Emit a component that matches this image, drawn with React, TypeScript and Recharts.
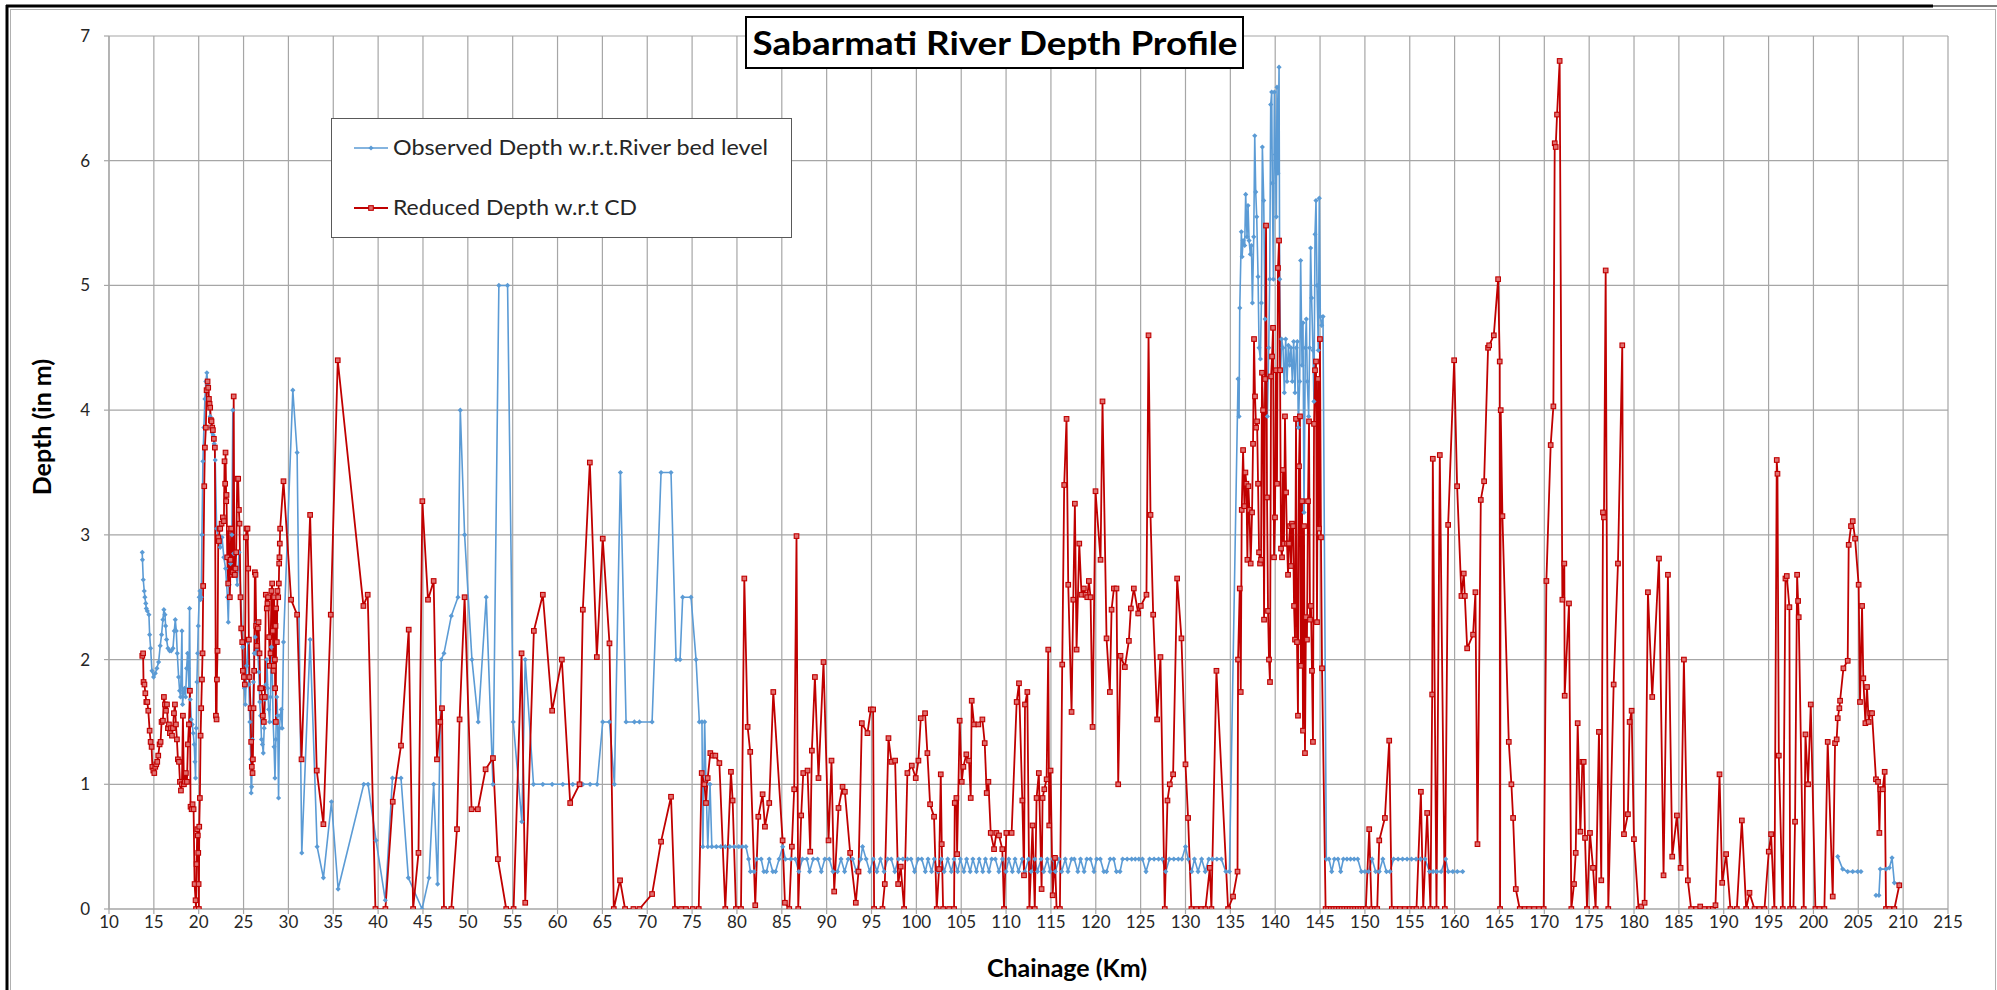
import React from 'react';
import { ComposedChart, Line, XAxis, YAxis, CartesianGrid } from 'recharts';

type Pt = [number, number | null];

// ---------- Observed Depth w.r.t. River bed level (km, m) ----------
const observedReach1: Pt[] = [
  [13.71,2.86],[13.73,2.8],[13.82,2.64],[13.93,2.55],[14.0,2.5],[14.1,2.45],[14.16,2.41],[14.27,2.39],[14.45,2.36],[14.53,2.2],
  [14.64,2.09],[14.79,1.91],[14.97,1.86],[15.16,1.89],[15.34,1.93],[15.53,1.98],[15.71,2.11],[15.86,2.2],[16.01,2.32],[16.12,2.4],
  [16.24,2.36],[16.31,2.27],[16.42,2.16],[16.57,2.09],[16.76,2.07],[16.94,2.07],[17.13,2.09],[17.28,2.23],[17.39,2.32],[17.5,2.23],
  [17.61,2.05],[17.76,1.86],[17.87,1.75],[17.98,1.7],[18.13,2.23],[18.2,1.64],[18.31,1.73],[18.42,1.77],[18.54,1.7],[18.65,1.93],
  [18.76,2.05],[18.83,1.93],[18.91,1.77],[18.98,2.41],[19.06,1.68],[19.17,1.52],[19.28,1.48],[19.39,1.41],[19.5,1.32],[19.58,1.18],
  [19.65,1.05],[19.73,1.45],[19.8,1.82],[19.88,2.05],[19.95,2.27],[20.06,2.5],[20.13,2.55],[20.2,2.48],[20.28,2.5],[20.36,3.0],
  [20.47,3.59],[20.58,3.86],[20.69,4.09],[20.8,4.23],[20.91,4.3],[21.02,4.2],[21.17,4.07],[21.28,3.95],[21.39,3.86],[21.5,3.82],
  [21.61,3.8],[21.73,3.73],[21.84,3.6],[22.0,3.05],[22.2,2.95],[22.4,2.9],[22.6,2.98],[22.8,2.82],[23.0,2.73],[23.2,2.5],
  [23.3,2.3],[23.4,2.6],[23.55,2.77],[23.7,3.0],[23.8,4.0],[23.9,2.85],[24.1,2.73],[24.3,2.6],[24.5,2.86],[24.7,2.5],
  [24.9,2.1],[25.0,1.86],[25.1,1.77],[25.2,1.64],[25.35,1.95],[25.5,2.14],[25.6,1.8],[25.7,1.5],[25.8,1.2],[25.85,0.93],
  [25.9,0.98],[26.0,1.36],[26.1,1.82],[26.2,2.05],[26.3,2.18],[26.4,2.05],[26.5,2.3],[26.6,2.05],[26.7,1.9],[26.8,1.66],
  [26.9,1.55],[27.0,1.36],[27.1,1.32],[27.2,1.25],[27.3,1.45],[27.4,1.68],[27.5,1.8],[27.6,2.0],[27.7,1.77],[27.8,1.6],
  [27.9,1.5],[28.0,1.7],[28.1,2.1],[28.2,1.9],[28.3,1.5],[28.4,1.3],[28.5,1.05],[28.6,1.36],[28.7,1.7],[28.8,1.55],
  [28.9,0.89],[29.0,1.45],[29.1,1.55],[29.2,1.6],[29.3,1.45],[29.45,2.14],[30.49,4.16],[30.97,3.66],[31.49,0.45],[32.42,2.16],
  [33.2,0.5],[33.9,0.25],[34.8,0.86],[35.54,0.16],[38.4,1.0],[38.88,1.0],[39.77,0.55],[40.8,0.07],[41.6,1.05],[42.55,1.05],
  [43.37,0.25],[44.9,0],
];
const observedReach2: Pt[] = [
  [45.67,0.25],[46.19,1.0],[46.63,0.2],[47.04,2.0],[47.34,2.05],[48.16,2.35],[48.9,2.5],[49.16,4.0],[49.64,3.0],[50.46,2.0],
  [51.16,1.5],[52.05,2.5],[52.8,1.0],[53.46,5.0],[54.43,5.0],[55.06,1.5],[56.02,0.7],[56.4,2.0],[57.32,1.0],[58.36,1.0],
  [59.4,1.0],[60.59,1.0],[61.7,1.0],[62.82,1.0],[63.63,1.0],[64.41,1.0],[65.04,1.5],[65.79,1.5],[66.34,1.0],[67.01,3.5],
  [67.64,1.5],[68.57,1.5],[69.13,1.5],[70.54,1.5],[71.54,3.5],[72.65,3.5],[73.21,2.0],[73.66,2.0],[73.95,2.5],[74.88,2.5],
  [75.44,2.0],[75.81,1.5],[76.1,1.5],[76.2,0.5],[76.4,1.5],[76.55,1.0],[76.75,0.5],[77.0,1.0],[77.2,0.5],[77.7,0.5],
  [78.2,0.5],[78.7,0.5],[79.2,0.5],[79.7,0.5],[80.2,0.5],[80.6,0.5],[81.0,0.5],
];
const observedReach3: Pt[] = [
  [81.3,0.4],[81.5,0.3],[81.9,0.3],[82.2,0.4],[82.7,0.4],[83.0,0.3],[83.3,0.3],[83.6,0.4],[84.0,0.3],[84.3,0.3],
  [84.7,0.4],[85.1,0.5],[85.4,0.4],[86.0,0.4],[86.5,0.4],[86.9,0.3],[87.3,0.4],[87.8,0.4],[88.1,0.3],[88.5,0.4],
  [89.0,0.4],[89.4,0.3],[89.8,0.4],[90.3,0.4],[90.7,0.3],[91.2,0.3],[91.6,0.4],[92.0,0.3],[92.4,0.4],[92.9,0.4],
  [93.3,0.3],[93.8,0.4],[94.0,0.5],[94.4,0.4],[94.8,0.3],[95.2,0.4],[95.6,0.3],[96.0,0.4],[96.4,0.3],[96.8,0.4],
  [97.2,0.4],[97.6,0.3],[98.0,0.4],[98.5,0.4],[99.0,0.4],[99.4,0.4],[99.8,0.3],[100.2,0.4],[100.6,0.4],[101.0,0.3],
  [101.3,0.4],[101.7,0.3],[102.0,0.4],[102.4,0.3],[102.8,0.4],[103.1,0.3],[103.5,0.4],[103.9,0.3],[104.2,0.4],[104.6,0.3],
  [104.9,0.4],[105.3,0.3],[105.6,0.4],[106.0,0.3],[106.3,0.4],[106.7,0.3],[107.0,0.4],[107.4,0.3],[107.7,0.4],[108.1,0.3],
  [108.4,0.4],[108.8,0.4],[109.2,0.3],[109.6,0.4],[110.0,0.3],[110.3,0.4],[110.7,0.3],[111.0,0.4],[111.4,0.3],[111.8,0.4],
  [112.1,0.3],[112.5,0.4],[112.8,0.3],[113.2,0.4],[113.5,0.3],[113.9,0.4],[114.2,0.3],[114.6,0.4],[114.9,0.3],[115.2,0.4],
  [115.5,0.3],[115.9,0.4],[116.2,0.3],[116.6,0.4],[116.9,0.3],[117.3,0.4],[117.6,0.4],[118.0,0.3],[118.3,0.4],[118.7,0.3],
  [119.0,0.4],[119.4,0.4],[119.8,0.3],[120.1,0.4],[120.5,0.4],[120.9,0.3],[121.2,0.3],[121.6,0.4],[122.0,0.4],[122.3,0.3],
  [122.7,0.3],[123.0,0.4],[123.5,0.4],[124.0,0.4],[124.4,0.4],[124.8,0.4],[125.2,0.4],[125.6,0.3],[126.0,0.4],[126.5,0.4],
  [127.0,0.4],[127.4,0.4],[127.8,0.3],[128.2,0.4],[128.7,0.4],[129.2,0.4],[129.6,0.4],[130.0,0.5],[130.3,0.4],[130.7,0.3],
  [131.0,0.4],[131.4,0.3],[131.8,0.4],[132.2,0.3],[132.6,0.4],[133.0,0.4],[133.5,0.4],[134.0,0.4],[134.5,0.3],[134.9,0.3],
];
const observedReach4: Pt[] = [
  [135.86,4.25],[135.97,3.95],[136.05,4.82],[136.23,5.43],[136.31,5.23],[136.42,5.36],[136.6,5.32],[136.71,5.73],[136.86,5.39],[136.97,5.64],
  [137.09,5.36],[137.23,5.25],[137.35,5.32],[137.46,4.86],[137.61,5.39],[137.72,6.2],[137.83,5.75],[137.94,5.55],[138.09,5.07],[138.2,4.5],
  [138.35,4.41],[138.46,4.86],[138.57,6.11],[138.72,5.68],[138.87,4.73],[139.02,4.25],[139.13,3.95],[139.28,4.5],[139.39,5.05],[139.5,6.45],
  [139.61,6.55],[139.68,5.82],[139.8,5.05],[139.91,6.55],[140.02,6.05],[140.13,5.55],[140.2,6.59],[140.31,5.9],[140.43,6.75],[140.5,5.05],
  [140.61,4.32],[140.72,4.57],[140.87,4.5],[141.02,4.14],[141.17,4.57],[141.32,4.23],[141.47,4.52],[141.61,4.36],[141.76,4.5],[141.91,4.23],
  [142.06,4.55],[142.21,4.14],[142.36,4.5],[142.47,4.55],[142.58,3.86],[142.73,4.23],[142.84,5.2],[142.99,4.36],[143.1,4.7],[143.21,3.18],
  [143.36,4.5],[143.47,4.73],[143.58,4.23],[143.73,3.95],[143.84,4.5],[143.95,5.3],[144.06,4.9],[144.21,4.48],[144.32,4.07],[144.44,5.41],
  [144.55,5.68],[144.66,5.0],[144.81,4.48],[144.92,5.7],[145.03,4.75],[145.18,4.68],[145.33,4.75],[145.7,0.4],
];
const observedReach5: Pt[] = [
  [146.0,0.4],[146.3,0.3],[146.6,0.4],[147.0,0.4],[147.3,0.3],[147.6,0.4],[148.0,0.4],[148.4,0.4],[148.8,0.4],[149.2,0.4],
  [149.6,0.3],[150.0,0.3],[150.4,0.3],[150.8,0.4],[151.2,0.3],[151.6,0.3],[152.0,0.4],[152.4,0.3],[152.8,0.3],[153.2,0.4],
  [153.7,0.4],[154.2,0.4],[154.7,0.4],[155.2,0.4],[155.7,0.4],[156.2,0.4],[156.7,0.4],[157.2,0.3],[157.6,0.3],[158.0,0.3],
  [158.5,0.3],[159.0,0.4],[159.3,0.3],[159.8,0.3],[160.3,0.3],[160.9,0.3],
  [182.0,null],
];
const observedReach6: Pt[] = [
  [202.71,0.42],[203.26,0.32],[203.82,0.3],[204.38,0.3],[204.93,0.3],[205.3,0.3],
  [206.2,null],
  [206.97,0.11],[207.3,0.11],[207.45,0.32],[208.1,0.32],[208.46,0.33],[208.76,0.41],[209.02,0.21],[209.57,0.2],
];

// ---------- Reduced Depth w.r.t CD (km, m) ----------
const reducedReach1: Pt[] = [
  [13.71,2.03],[13.8,2.05],[13.85,1.82],[13.95,1.8],[14.05,1.73],[14.16,1.66],[14.27,1.66],[14.38,1.59],[14.53,1.43],[14.64,1.34],
  [14.75,1.3],[14.83,1.14],[14.94,1.11],[15.05,1.09],[15.16,1.14],[15.27,1.16],[15.38,1.18],[15.49,1.23],[15.64,1.32],[15.75,1.34],
  [15.86,1.5],[16.01,1.51],[16.12,1.7],[16.24,1.64],[16.35,1.59],[16.46,1.64],[16.57,1.45],[16.68,1.48],[16.79,1.41],[16.9,1.45],
  [17.02,1.39],[17.13,1.45],[17.24,1.57],[17.35,1.64],[17.46,1.48],[17.57,1.36],[17.68,1.2],[17.8,1.18],[17.91,1.02],[18.02,0.95],
  [18.13,1.0],[18.24,1.55],[18.35,1.0],[18.46,1.02],[18.57,1.09],[18.69,1.02],[18.8,1.32],[18.91,1.48],[19.02,1.75],[19.09,0.82],
  [19.21,0.8],[19.32,0.84],[19.43,0.8],[19.54,0.2],[19.65,0.07],[19.7,0.0],[19.76,0.36],[19.84,0.64],[19.9,0.59],[19.95,0.45],
  [19.99,0.2],[20.02,0.0],[20.06,0.66],[20.13,0.89],[20.21,1.39],[20.28,1.61],[20.36,1.84],[20.43,2.05],[20.5,2.59],[20.62,3.39],
  [20.69,3.7],[20.8,3.86],[20.88,4.16],[20.99,4.23],[21.06,4.18],[21.14,4.09],[21.21,4.05],[21.28,4.02],[21.36,3.92],[21.43,3.91],
  [21.51,3.86],[21.58,3.84],[21.69,3.77],[21.8,3.7],[21.92,1.55],[21.99,1.52],[22.03,1.84],[22.1,2.07],[22.18,2.98],[22.25,2.95],
  [22.32,3.05],[22.4,3.05],[22.55,3.09],[22.69,3.14],[22.81,3.11],[22.88,3.59],[22.95,3.41],[22.99,3.66],[23.07,3.27],[23.1,3.32],
  [23.18,2.82],[23.29,2.61],[23.36,3.05],[23.47,2.5],[23.55,2.8],[23.62,3.05],[23.7,2.68],[23.81,2.7],[23.9,4.11],[23.98,2.68],
  [24.03,2.68],[24.1,2.73],[24.18,2.86],[24.29,3.45],[24.4,3.45],[24.48,3.2],[24.55,3.09],[24.66,2.5],[24.74,2.25],[24.85,2.14],
  [24.92,1.91],[25.03,1.86],[25.14,1.8],[25.26,2.98],[25.33,3.05],[25.44,3.05],[25.52,2.73],[25.59,2.16],[25.66,1.86],[25.78,1.61],
  [25.85,1.34],[25.92,1.14],[26.0,1.09],[26.04,1.2],[26.11,1.61],[26.18,1.91],[26.26,2.7],[26.33,2.68],[26.41,2.27],[26.48,2.11],
  [26.59,2.25],[26.67,2.3],[26.78,2.05],[26.85,1.77],[26.96,1.77],[27.07,1.7],[27.15,1.55],[27.26,1.5],[27.37,1.7],[27.48,2.52],
  [27.59,2.41],[27.67,2.45],[27.74,2.5],[27.85,2.18],[27.93,1.95],[28.0,2.05],[28.11,2.55],[28.19,2.61],[28.26,2.23],[28.34,1.91],
  [28.37,1.95],[28.41,2.5],[28.49,2.0],[28.52,1.77],[28.56,2.27],[28.6,1.5],[28.63,2.41],[28.71,2.14],[28.78,2.55],[28.86,2.5],
  [28.93,2.61],[28.97,2.77],[29.0,2.82],[29.04,2.93],[29.08,3.05],[29.45,3.43],[30.3,2.48],[30.97,2.36],[31.46,1.2],[32.42,3.16],
  [33.16,1.11],[33.9,0.68],[34.72,2.36],[35.5,4.4],[38.36,2.43],[38.84,2.52],[39.7,0],[40.81,0],[41.63,0.86],[42.55,1.31],
  [43.41,2.24],[43.9,0],[44.5,0.45],[44.93,3.27],
];
const reducedReach2: Pt[] = [
  [45.56,2.48],[46.19,2.63],[46.56,1.2],[46.93,1.5],[47.12,1.61],[47.34,0],[48.16,0],[48.79,0.64],[49.08,1.52],[49.64,2.5],
  [50.42,0.8],[51.12,0.8],[51.98,1.12],[52.8,1.21],[53.35,0.4],[54.28,0],[55.1,0],[55.99,2.05],[56.4,0.05],[57.36,2.23],
  [58.36,2.52],[59.4,1.59],[60.48,2.0],[61.41,0.85],[62.45,1.0],[62.82,2.4],[63.6,3.58],[64.38,2.02],[65.04,2.97],[65.79,2.13],
  [66.27,0],[66.97,0.23],[67.53,0],[68.46,0],[69.13,0],[70.54,0.12],[71.54,0.54],[72.65,0.9],[73.1,0],[73.77,0],
  [74.32,0],[75.07,0],[75.74,0],[76.07,1.09],[76.37,1.0],[76.55,0.85],[76.74,1.05],[77.03,1.25],[77.29,1.23],[77.59,1.23],
  [78.04,1.17],[78.7,0],[79.33,1.1],[79.52,0.87],[79.89,0],
];
const reducedReach3: Pt[] = [
  [80.45,0],[80.82,2.65],[81.19,1.46],[81.48,1.26],[82.04,0.03],[82.38,0.74],[82.86,0.92],[83.12,0.66],[83.6,0.85],[84.05,1.74],
  [85.09,0.55],[85.35,0.05],[85.83,0],[86.12,0.5],[86.38,0.96],[86.64,2.99],[86.83,0],[87.16,0.75],[87.39,1.09],[87.87,1.11],
  [88.17,0.46],[88.35,1.27],[88.69,1.86],[89.09,1.05],[89.65,1.98],[90.21,0.55],[90.54,1.19],[90.84,0.14],[91.32,0.81],[91.77,0.98],
  [92.03,0.94],[92.62,0.45],[93.25,0.05],[93.55,0.3],[93.92,1.49],[94.55,1.41],[94.92,1.6],[95.18,1.6],[95.29,0],[96.22,0],
  [96.48,0.2],[96.89,1.37],[97.22,1.18],[97.63,1.19],[97.97,0.2],[98.26,0.34],[98.63,0],[99.0,1.09],[99.49,1.15],[99.93,1.05],
  [100.23,1.19],[100.49,1.53],[100.97,1.57],[101.23,1.25],[101.53,0.84],[101.97,0.74],[102.27,0],[102.53,0.32],[102.72,1.08],[102.83,0.52],
  [102.98,0],[103.65,0],[104.2,0],[104.28,0.85],[104.46,0.89],[104.54,0.44],[104.83,1.51],[105.06,1.02],[105.24,1.14],[105.57,1.24],
  [105.87,1.19],[106.06,0.89],[106.17,1.67],[106.43,1.48],[106.91,1.48],[107.36,1.52],[107.62,1.33],[107.84,0.93],[108.03,1.02],[108.29,0.61],
  [108.66,0.48],[108.92,0.61],[109.21,0.59],[109.58,0.48],[109.77,0],[110.03,0.61],[110.62,0.61],[111.18,1.66],[111.44,1.81],[111.81,0.87],
  [112.0,0.27],[112.11,1.64],[112.37,1.74],[112.6,0],[112.95,0.67],[113.2,0],[113.4,0.89],[113.65,1.09],[113.96,0.16],[114.07,0.89],
  [114.26,0.96],[114.52,1.04],[114.7,2.08],[114.81,0.67],[114.96,1.11],[115.19,0.11],[115.45,0.41],[115.63,0],[116.0,0],
];
const reducedReach4: Pt[] = [
  [116.26,1.96],[116.48,3.4],[116.74,3.93],[116.93,2.6],[117.3,1.58],[117.49,2.48],[117.67,3.25],[117.86,2.08],[118.16,2.93],[118.41,2.52],
  [118.67,2.57],[118.86,2.52],[119.05,2.5],[119.23,2.63],[119.42,2.5],[119.64,1.46],[119.97,3.35],[120.53,2.8],[120.75,4.07],[121.2,2.17],
  [121.57,1.74],[121.76,2.4],[122.02,2.57],[122.31,2.57],[122.5,1.0],[122.76,2.03],[123.24,1.94],[123.69,2.15],[123.91,2.41],[124.24,2.57],
  [124.73,2.37],[125.02,2.43],[125.65,2.52],[125.88,4.6],[126.1,3.16],[126.4,2.36],[126.84,1.52],[127.21,2.02],[127.69,0],[127.99,0.87],
  [128.25,1.0],[128.62,1.08],[129.07,2.65],[129.55,2.17],[130.0,1.16],[130.29,0.73],[130.66,0],[131.22,0],[131.78,0],[132.22,0],
  [132.71,0.33],[132.89,0],[133.45,1.91],[134.75,0],[135.3,0.1],[135.8,0.3],[135.86,2.0],
];
const reducedReach5: Pt[] = [
  [136.05,2.57],[136.16,1.74],[136.27,3.2],[136.42,3.68],[136.57,3.23],[136.68,3.5],[136.79,3.41],[136.9,2.8],[137.01,3.39],[137.12,3.2],
  [137.27,2.77],[137.42,3.18],[137.53,3.73],[137.64,4.57],[137.75,4.11],[137.87,3.86],[137.98,3.91],[138.09,3.41],[138.2,2.86],[138.31,2.77],
  [138.42,2.8],[138.53,4.3],[138.65,4.0],[138.76,2.32],[138.87,4.25],[138.98,5.48],[139.09,3.3],[139.2,2.39],[139.31,2.0],[139.42,1.82],
  [139.54,4.27],[139.65,4.43],[139.76,4.66],[139.87,2.82],[139.98,3.14],[140.09,4.32],[140.2,3.41],[140.31,5.14],[140.43,5.36],[140.54,4.32],
  [140.65,2.89],[140.76,2.82],[140.87,3.52],[140.98,2.93],[141.09,3.95],[141.21,3.34],[141.32,2.93],[141.43,2.68],[141.54,2.93],[141.65,3.07],
  [141.76,2.75],[141.87,3.09],[141.99,3.07],[142.1,2.43],[142.21,2.16],[142.32,3.93],[142.43,2.14],[142.54,1.55],[142.65,3.55],[142.76,3.95],
  [142.87,1.95],[142.99,3.27],[143.1,1.43],[143.21,3.07],[143.32,1.25],[143.43,2.34],[143.54,2.16],[143.66,3.27],[143.77,3.91],[143.88,2.32],
  [143.99,2.43],[144.1,1.91],[144.21,1.34],[144.33,3.89],[144.44,4.32],[144.55,4.39],[144.66,2.3],[144.77,4.25],[144.88,3.05],[144.99,4.57],
  [145.1,2.98],[145.22,1.93],[145.62,0],
];
const reducedReach6: Pt[] = [
  [145.9,0],[146.2,0],[146.5,0],[146.8,0],[147.1,0],[147.4,0],[147.7,0],[148.0,0],[148.3,0],[148.6,0],
  [148.9,0],[149.2,0],[149.5,0],[149.8,0],[150.1,0],[150.48,0.64],[150.74,0],[151.11,0],[151.37,0],[151.6,0.55],
  [152.23,0.73],[152.71,1.35],[153.0,0],[153.45,0],[153.9,0],[154.45,0],[155.01,0],[155.4,0],[155.75,0],[156.24,0.94],
  [156.5,0],[156.94,0.77],[157.31,0],[157.5,1.72],[157.57,3.61],[157.98,0],[158.35,3.64],[158.91,0],[159.28,3.08],[159.95,4.4],
  [160.28,3.39],[160.76,2.51],[161.02,2.69],[161.14,2.51],[161.4,2.09],[162.06,2.2],[162.32,2.54],[162.55,0.52],[162.92,3.28],[163.29,3.43],
  [163.73,4.5],[163.85,4.52],[164.37,4.6],[164.85,5.05],[165.03,4.39],[165.07,0],[165.14,4.0],[165.33,3.15],[166.04,1.34],[166.33,1.0],
  [166.52,0.73],[166.82,0.16],[167.26,0],[167.82,0],[168.3,0],[168.86,0],[169.41,0],[169.93,0],[170.23,2.63],[170.71,3.72],
  [171.01,4.03],[171.16,6.14],[171.27,6.11],[171.42,6.37],[171.71,6.8],[172.01,2.48],[172.23,2.77],[172.27,1.71],[172.75,2.45],[173.01,0],
  [173.31,0.2],[173.5,0.45],[173.72,1.49],[174.02,0.62],[174.24,1.18],[174.39,1.18],[174.54,0.57],[174.76,0],[175.09,0.61],[175.43,0.33],
  [175.72,0],[176.09,1.42],[176.35,0.23],[176.54,3.18],[176.65,3.14],[176.84,5.12],[177.13,0],[177.73,1.8],[178.21,2.77],[178.69,4.52],
  [178.88,0.6],[179.32,0.76],[179.51,1.5],[179.73,1.59],[179.99,0.56],[180.51,0],[180.81,0.02],[181.18,0.05],[181.55,2.54],[182.03,1.7],
  [182.78,2.81],
];
const reducedReach7: Pt[] = [
  [183.29,0.27],[183.78,2.68],[184.26,0.42],[184.78,0.75],[185.19,0.33],[185.56,2.0],[186.0,0.23],[186.37,0],[186.93,0],[187.38,0.02],
  [187.86,0],[188.41,0],[188.79,0],[189.08,0.03],[189.53,1.08],[189.83,0.21],[190.27,0.44],[190.75,0],[191.46,0],[192.02,0.71],
  [192.5,0],[192.87,0.13],[193.43,0],[193.98,0],[194.54,0],[195.02,0.46],[195.28,0.6],[195.65,0],[195.91,3.6],[195.99,3.49],
  [196.14,1.23],[196.58,0],[196.88,2.65],[197.03,2.67],[197.32,2.42],[197.4,0],[197.77,0],[197.95,0.7],[198.18,2.68],[198.29,2.47],
  [198.36,2.34],[198.92,0],[199.11,1.4],[199.4,1.0],[199.7,1.64],[200.22,0],[200.66,0],[201.22,0],[201.59,1.34],[202.15,0.1],
  [202.41,1.33],[202.59,1.36],[202.71,1.53],[202.89,1.61],[202.97,1.67],[203.34,1.93],[203.82,1.99],[203.93,2.92],[204.19,3.07],[204.38,3.11],
  [204.64,2.97],[205.04,2.6],[205.19,1.66],[205.42,2.43],[205.56,1.85],[205.79,1.49],[205.97,1.78],[206.16,1.5],[206.34,1.57],[206.53,1.57],
  [206.97,1.04],[207.2,1.02],[207.35,0.61],[207.46,0.96],[207.72,0.96],[207.94,1.1],[208.09,0],[208.46,0],[209.02,0],[209.57,0.19],
];

const xTicks = [10,15,20,25,30,35,40,45,50,55,60,65,70,75,80,85,90,95,100,105,110,115,120,125,130,135,140,145,150,155,160,165,170,175,180,185,190,195,200,205,210,215];
const yTicks = [0,1,2,3,4,5,6,7];

const seriesNames = ['Observed Depth w.r.t.River bed level', 'Reduced Depth w.r.t CD'];
const chartTitle = 'Sabarmati River Depth Profile';
const xTitle = 'Chainage (Km)';
const yTitle = 'Depth (in m)';

const BLUE = '#5B9BD5';
const RED = '#C00000';
const FONT = 'Lato, "Open Sans", sans-serif';

const toRows = (pts: Pt[]) => pts.map(([km, depth]) => ({ km, depth }));

const observedRows = toRows([
  ...observedReach1, ...observedReach2, ...observedReach3, ...observedReach4, ...observedReach5, ...observedReach6,
]);
const reducedRows = toRows([
  ...reducedReach1, ...reducedReach2, ...reducedReach3, ...reducedReach4, ...reducedReach5, ...reducedReach6, ...reducedReach7,
]);

const BlueDot = (props: any) => {
  const { cx, cy, index, value } = props;
  if (cx == null || cy == null || value == null || isNaN(cy)) return <g key={`bd${index}`} />;
  const r = 2.6;
  return (
    <path key={`bd${index}`} d={`M${cx},${cy - r}L${cx + r},${cy}L${cx},${cy + r}L${cx - r},${cy}Z`} fill={BLUE} stroke="none" />
  );
};

const RedDot = (props: any) => {
  const { cx, cy, index, value } = props;
  if (cx == null || cy == null || value == null || isNaN(cy)) return <g key={`rd${index}`} />;
  const s = 4.6;
  return (
    <rect key={`rd${index}`} x={cx - s / 2} y={cy - s / 2} width={s} height={s} fill="#E07070" stroke={RED} strokeWidth={1.1} />
  );
};

const XTick = (props: any) => {
  const { x, y, payload } = props;
  return (
    <text x={x} y={y + 6} textAnchor="middle" fontFamily={FONT} fontSize={17} fill="#262626">
      {payload.value}
    </text>
  );
};

const YTick = (props: any) => {
  const { x, y, payload } = props;
  return (
    <text x={x} y={y + 6} textAnchor="end" fontFamily={FONT} fontSize={17} fill="#262626">
      {payload.value}
    </text>
  );
};

export default function App() {
  return (
    <div style={{ position: 'absolute', left: 0, top: 0, width: 1997, height: 990, background: '#ffffff', overflow: 'hidden' }}>
      <ComposedChart width={1997} height={990} margin={{ top: 36, right: 49, bottom: 0, left: 0 }}>
        <CartesianGrid stroke="#a6a6a6" strokeWidth={1.2} />
        <XAxis
          dataKey="km"
          type="number"
          domain={[10, 215]}
          ticks={xTicks}
          interval={0}
          allowDataOverflow
          height={81}
          tickSize={5}
          tickMargin={8}
          axisLine={{ stroke: '#a6a6a6', strokeWidth: 1.2 }}
          tickLine={{ stroke: '#a6a6a6', strokeWidth: 1.2 }}
          tick={<XTick />}
        />
        <YAxis
          type="number"
          domain={[0, 7]}
          ticks={yTicks}
          interval={0}
          allowDataOverflow
          width={109}
          tickSize={5}
          tickMargin={14}
          axisLine={{ stroke: '#a6a6a6', strokeWidth: 1.2 }}
          tickLine={{ stroke: '#a6a6a6', strokeWidth: 1.2 }}
          tick={<YTick />}
        />
        <Line
          data={observedRows}
          dataKey="depth"
          name={seriesNames[0]}
          type="linear"
          stroke={BLUE}
          strokeWidth={1.6}
          dot={BlueDot}
          activeDot={false}
          connectNulls={false}
          isAnimationActive={false}
        />
        <Line
          data={reducedRows}
          dataKey="depth"
          name={seriesNames[1]}
          type="linear"
          stroke={RED}
          strokeWidth={1.8}
          dot={RedDot}
          activeDot={false}
          connectNulls={false}
          isAnimationActive={false}
        />
      </ComposedChart>
      <svg width={1997} height={990} style={{ position: 'absolute', left: 0, top: 0, pointerEvents: 'none' }}>
        {/* chart frame */}
        <line x1={6} y1={6} x2={1933} y2={6} stroke="#000" strokeWidth={3} />
        <line x1={1933} y1={6} x2={1997} y2={6} stroke="#000" strokeWidth={1} />
        <line x1={7} y1={5} x2={7} y2={990} stroke="#000" strokeWidth={3} />
        <line x1={10} y1={9.5} x2={1995} y2={9.5} stroke="#b0b0b0" strokeWidth={1} />
        <line x1={1995.5} y1={9} x2={1995.5} y2={990} stroke="#b0b0b0" strokeWidth={1} />
        <line x1={10.5} y1={9} x2={10.5} y2={990} stroke="#b0b0b0" strokeWidth={1} />
        {/* title */}
        <rect x={746} y={17} width={497} height={51} fill="#fff" stroke="#000" strokeWidth={2} />
        <text x={995} y={55} textAnchor="middle" fontFamily={FONT} fontWeight={700} fontSize={33} fill="#000" textLength={485} lengthAdjust="spacingAndGlyphs">
          {chartTitle}
        </text>
        {/* legend */}
        <rect x={331.5} y={118.5} width={460} height={119} fill="#fff" stroke="#595959" strokeWidth={1} />
        <line x1={354} y1={148} x2={388} y2={148} stroke={BLUE} strokeWidth={1.6} />
        <path d="M371,145.4L373.6,148L371,150.6L368.4,148Z" fill={BLUE} />
        <text x={393} y={155} fontFamily={FONT} fontSize={21} fill="#262626" textLength={375} lengthAdjust="spacingAndGlyphs">
          {seriesNames[0]}
        </text>
        <line x1={354} y1={208} x2={388} y2={208} stroke={RED} strokeWidth={1.8} />
        <rect x={368.7} y={205.7} width={4.6} height={4.6} fill="#E07070" stroke={RED} strokeWidth={1.1} />
        <text x={393} y={215} fontFamily={FONT} fontSize={21} fill="#262626" textLength={244} lengthAdjust="spacingAndGlyphs">
          {seriesNames[1]}
        </text>
        {/* axis titles */}
        <text x={1067} y={977} textAnchor="middle" fontFamily={FONT} fontWeight={700} fontSize={25} fill="#000">
          {xTitle}
        </text>
        <text x={0} y={0} transform="translate(51,427) rotate(-90)" textAnchor="middle" fontFamily={FONT} fontWeight={700} fontSize={25} fill="#000">
          {yTitle}
        </text>
      </svg>
    </div>
  );
}
